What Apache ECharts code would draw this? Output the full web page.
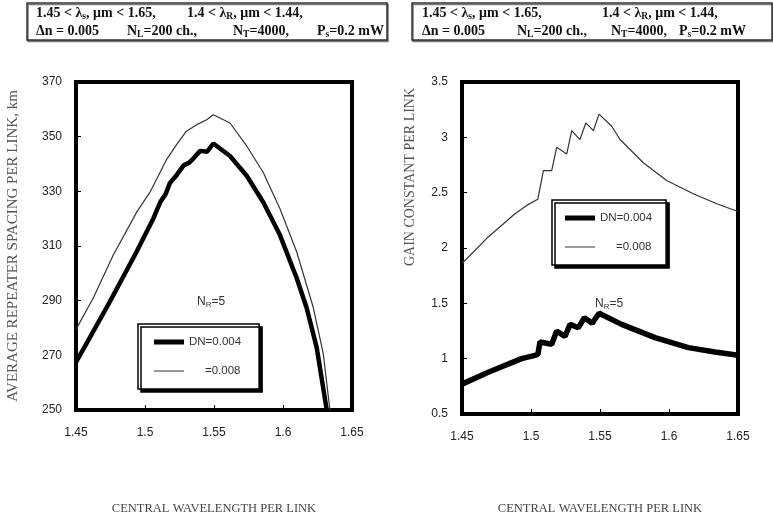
<!DOCTYPE html>
<html>
<head>
<meta charset="utf-8">
<script src="https://cdn.jsdelivr.net/npm/echarts@6/dist/echarts.min.js"></script>
<style>
  html, body { margin: 0; padding: 0; background: #fff; }
  #chart { width: 773px; height: 520px; }
</style>
</head>
<body>
<div id="chart"></div>
<script>
// left panel: average repeater spacing (km) vs central wavelength
const spanWl004 = [1.45, 1.46, 1.47, 1.476, 1.485, 1.494, 1.50, 1.506, 1.511, 1.515, 1.518, 1.523, 1.528, 1.532, 1.535, 1.540, 1.545, 1.5495,
  1.5616, 1.5737, 1.5857, 1.5978, 1.6099, 1.6171, 1.6244, 1.6317];
const spanKm004 = [267.5, 276.5, 285.5, 291, 299.5, 308, 314, 320, 326, 329, 333, 336, 339.5, 340.5, 342, 344.8, 344.5, 347.5,
  342.9, 335.7, 326.0, 314.0, 298.3, 287.4, 272.9, 250];
const spanWl008 = [1.45, 1.4625, 1.477, 1.494, 1.5036, 1.5097, 1.5157, 1.523, 1.530, 1.5375, 1.5447, 1.5495,
  1.5616, 1.5737, 1.5857, 1.5978, 1.6099, 1.622, 1.6292, 1.634];
const spanKm008 = [279.5, 291, 306.7, 322.4, 329.7, 335.7, 341.7, 347.2, 352, 354.4, 356.2, 358,
  355.0, 346.6, 336.9, 323.6, 307.9, 287.4, 270.5, 250];

// right panel: gain constant vs central wavelength
const gainWl004 = [1.45, 1.469, 1.4932, 1.5029, 1.505, 1.5065, 1.515, 1.5186, 1.5246, 1.5283, 1.5343, 1.5387, 1.5444, 1.5493,
  1.5657, 1.5899, 1.614, 1.6333, 1.65];
const gain004 = [0.77, 0.877, 1.0, 1.03, 1.04, 1.15, 1.13, 1.25, 1.20, 1.31, 1.28, 1.37, 1.32, 1.41,
  1.31, 1.19, 1.10, 1.06, 1.03];
const gainWl008 = [1.45, 1.469, 1.4884, 1.4969, 1.5049, 1.509, 1.515, 1.5186, 1.5259, 1.5295, 1.5355, 1.5397, 1.5452, 1.5493,
  1.5585, 1.5645, 1.5814, 1.5983, 1.6176, 1.6346, 1.65];
const gain008 = [1.86, 2.10, 2.31, 2.385, 2.44, 2.70, 2.70, 2.91, 2.85, 3.06, 2.98, 3.13, 3.06, 3.21,
  3.10, 2.98, 2.77, 2.61, 2.49, 2.40, 2.33];

const legendNames = ['DN=0.004', '=0.008'];

// header text pieces: [offset from box left, text]
const headLeft1 = [[9, '1.45 < λ{s|s}, μm < 1.65,'], [160, '1.4 < λ{s|R}, μm < 1.44,']];
const headLeft2 = [[9, 'Δn = 0.005'], [100, 'N{s|L}=200 ch.,'], [206, 'N{s|T}=4000,'], [290, 'P{s|s}=0.2 mW']];
const headRight1 = [[10, '1.45 < λ{s|s}, μm < 1.65,'], [190, '1.4 < λ{s|R}, μm < 1.44,']];
const headRight2 = [[10, 'Δn = 0.005'], [105, 'N{s|L}=200 ch.,'], [199, 'N{s|T}=4000,'], [267, 'P{s|s}=0.2 mW']];

const pairs = (xs, ys) => xs.map((x, i) => [x, ys[i]]);

const chart = echarts.init(document.getElementById('chart'), null, { renderer: 'canvas' });

const sans = 'Liberation Sans';
const serif = 'Liberation Serif';

const xAxisBase = {
  type: 'value', min: 1.45, max: 1.65, interval: 0.05,
  axisLine: { show: false },
  axisTick: { inside: true, length: 5, lineStyle: { color: '#000', width: 1 } },
  axisLabel: { color: '#222', fontFamily: sans, fontSize: 12, margin: 17 },
  splitLine: { show: false },
  name: 'CENTRAL WAVELENGTH PER LINK', nameLocation: 'middle',
  nameTextStyle: { color: '#444', fontFamily: serif, fontSize: 12.5 }
};

const yAxisBase = {
  type: 'value',
  axisLine: { show: false },
  axisTick: { inside: true, length: 5, lineStyle: { color: '#000', width: 1 } },
  axisLabel: { color: '#222', fontFamily: sans, fontSize: 12, margin: 14 },
  splitLine: { show: false }
};

const legendBase = {
  orient: 'vertical',
  itemWidth: 30, itemHeight: 14, itemGap: 17,
  backgroundColor: '#fff', borderColor: '#000', borderWidth: 1.5,
  shadowColor: '#000', shadowBlur: 0, shadowOffsetX: 3, shadowOffsetY: 3,
  textStyle: { color: '#333', fontFamily: sans, fontSize: 11.5 },
  data: [
    { name: legendNames[0], icon: 'path://M0,0L30,0L30,5L0,5Z' },
    { name: legendNames[1], icon: 'path://M0,0L30,0L30,1L0,1Z' }
  ],
  formatter: n => n === '=0.008' ? '     =0.008' : n
};

const sub = { fontSize: 9.5, fontFamily: serif, fontWeight: 'bold', lineHeight: 11, verticalAlign: 'bottom' };

function headerLine(boxX, y, pieces) {
  return pieces.map(([dx, t]) => ({
    type: 'text', x: boxX + dx, y: y,
    style: { text: t, fill: '#111', font: 'bold 14px "Liberation Serif"', lineHeight: 17, rich: { s: sub } }
  }));
}

function header(x, l1, l2) {
  return [
    { type: 'rect', shape: { x: x, y: 3, width: 360, height: 37 },
      style: { fill: '#fff', stroke: '#333', lineWidth: 1.5, shadowColor: '#777', shadowOffsetX: 1, shadowOffsetY: 1.5 } }
  ].concat(headerLine(x, 5, l1), headerLine(x, 23, l2));
}

const option = {
  backgroundColor: '#fff',
  animation: false,
  grid: [
    { left: 76, top: 82, width: 276, height: 331, show: true, borderColor: '#000', borderWidth: 4, backgroundColor: '#fff' },
    { left: 462, top: 82, width: 276, height: 335, show: true, borderColor: '#000', borderWidth: 4, backgroundColor: '#fff' }
  ],
  xAxis: [
    Object.assign({}, xAxisBase, { gridIndex: 0, nameGap: 92 }),
    Object.assign({}, xAxisBase, { gridIndex: 1, nameGap: 88 })
  ],
  yAxis: [
    Object.assign({}, yAxisBase, {
      gridIndex: 0, min: 250, max: 370, interval: 20,
      name: 'AVERAGE REPEATER SPACING PER LINK, km', nameLocation: 'middle', nameGap: 55,
      nameTextStyle: { color: '#555', fontFamily: serif, fontSize: 15 }
    }),
    Object.assign({}, yAxisBase, { gridIndex: 1, min: 0.5, max: 3.5, interval: 0.5 })
  ],
  legend: [
    Object.assign({}, legendBase, { left: 138, top: 324, padding: [12, 18, 12, 16] }),
    Object.assign({}, legendBase, { left: 552, top: 200, padding: [12, 14, 12, 13] })
  ],
  series: [
    { name: 'DN=0.004', type: 'line', xAxisIndex: 0, yAxisIndex: 0, data: pairs(spanWl004, spanKm004),
      showSymbol: false, symbol: 'none', lineStyle: { color: '#000', width: 4.5 }, itemStyle: { color: '#000' } },
    { name: '=0.008', type: 'line', xAxisIndex: 0, yAxisIndex: 0, data: pairs(spanWl008, spanKm008),
      showSymbol: false, symbol: 'none', lineStyle: { color: '#333', width: 1.2 }, itemStyle: { color: '#333' } },
    { name: 'DN=0.004', type: 'line', xAxisIndex: 1, yAxisIndex: 1, data: pairs(gainWl004, gain004),
      showSymbol: false, symbol: 'none', lineStyle: { color: '#000', width: 5.5 }, itemStyle: { color: '#000' } },
    { name: '=0.008', type: 'line', xAxisIndex: 1, yAxisIndex: 1, data: pairs(gainWl008, gain008),
      showSymbol: false, symbol: 'none', lineStyle: { color: '#333', width: 1.2 }, itemStyle: { color: '#333' } }
  ],
  graphic: [].concat(
    header(27, headLeft1, headLeft2),
    header(412, headRight1, headRight2),
    [
      { type: 'text', left: 197, top: 296,
        style: { text: 'N{r|R}=5', fill: '#333', font: '12px "Liberation Sans"',
          rich: { r: { fontSize: 8, fontFamily: sans, padding: [5, 0, 0, 0] } } } },
      { type: 'text', left: 595, top: 298,
        style: { text: 'N{r|R}=5', fill: '#333', font: '12px "Liberation Sans"',
          rich: { r: { fontSize: 8, fontFamily: sans, padding: [5, 0, 0, 0] } } } },
      { type: 'text', x: 410, y: 177, rotation: Math.PI / 2, originX: 0, originY: 0,
        style: { text: 'GAIN CONSTANT PER LINK', fill: '#555', font: '14px "Liberation Serif"', align: 'center', verticalAlign: 'middle' } }
    ]
  )
};

chart.setOption(option);
</script>
</body>
</html>
